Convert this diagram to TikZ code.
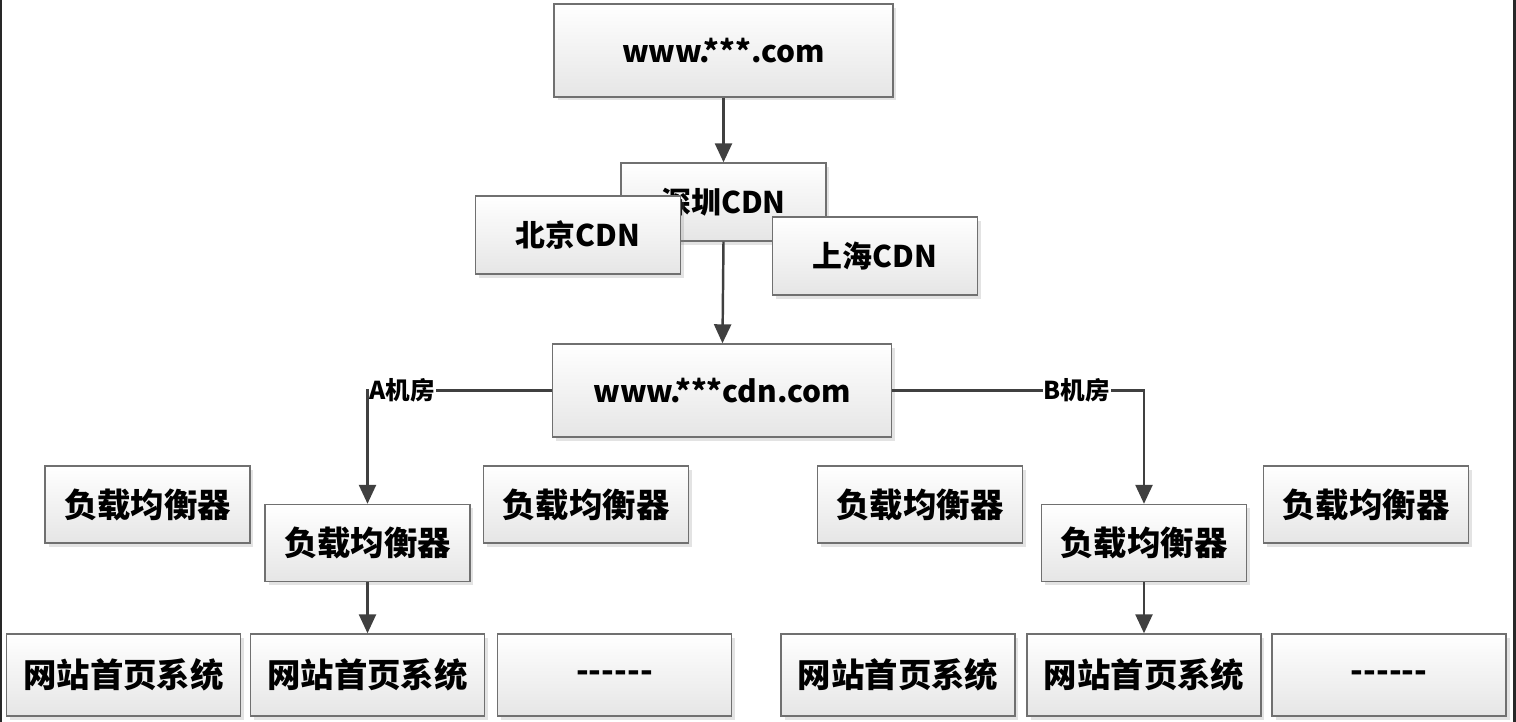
\documentclass[tikz,border=0pt]{standalone}
\usepackage{fontspec}
\setmainfont{Noto Sans CJK SC}
\usetikzlibrary{arrows.meta,positioning,shadows}
\definecolor{boxline}{RGB}{112,112,112}
\definecolor{arrline}{RGB}{64,64,64}
\definecolor{edgedark}{RGB}{40,40,40}
\newcommand{\dashrow}{\smash{\raisebox{-0.16cm}{{-}{-}{-}{-}{-}{-}}}}
\tikzset{
  box/.style={draw=boxline, line width=0.8pt, top color=white, bottom color=black!10,
              drop shadow={shadow xshift=2pt, shadow yshift=-2pt, opacity=0.22},
              inner sep=0pt, align=center},
  big/.style={box, minimum width=6.78cm, minimum height=1.86cm,
              font=\bfseries\fontsize{17pt}{20pt}\selectfont},
  cdn/.style={box, minimum width=4.1cm, minimum height=1.56cm,
              font=\bfseries\fontsize{17pt}{20pt}\selectfont},
  lb/.style={box, minimum width=4.1cm, minimum height=1.54cm,
             font=\bfseries\fontsize{19pt}{22pt}\selectfont},
  web/.style={box, minimum width=4.68cm, minimum height=1.64cm,
              font=\bfseries\fontsize{19pt}{22pt}\selectfont},
  room/.style={fill=white, inner sep=0.5pt, font=\bfseries\fontsize{14pt}{16pt}\selectfont},
  arr/.style={draw=arrline, line width=1.4pt, -{Triangle[length=0.38cm, width=0.34cm]}},
  link/.style={draw=arrline, line width=1.4pt}
}

\begin{document}
\begin{tikzpicture}[x=0.02cm, y=-0.02cm]
  \useasboundingbox (0,0) rectangle (1516,722);
  \fill[edgedark] (0,0) rectangle (2,722);
  \fill[edgedark] (1513,0) rectangle (1516,722);

  % domain and cdn
  \node[big] (www) at (723.5,50.5) {www.***.com};
  \node[cdn] (sz) at (723.5,202) {深圳CDN};
  \node[cdn] (bj) at (578,235) {北京CDN};
  \node[cdn] (sh) at (875,256) {上海CDN};
  \node[big] (wcdn) at (722,390.5) {www.***cdn.com};

  % load balancers
  \node[lb] (lbA1) at (147.5,504.5) {负载均衡器};
  \node[lb] (lbA) at (367.5,543) {负载均衡器};
  \node[lb] (lbA2) at (586,504.5) {负载均衡器};
  \node[lb] (lbB1) at (920,504.5) {负载均衡器};
  \node[lb] (lbB) at (1144,543) {负载均衡器};
  \node[lb] (lbB2) at (1366,504.5) {负载均衡器};

  % home page systems
  \node[web] (wA1) at (123.5,675) {网站首页系统};
  \node[web] (wA) at (367.5,675) {网站首页系统};
  \node[web] (wA2) at (614.5,675) {\dashrow};
  \node[web] (wB1) at (898,675) {网站首页系统};
  \node[web] (wB) at (1144,675) {网站首页系统};
  \node[web] (wB2) at (1389,675) {\dashrow};

  \draw[arr] (www) -- (sz);
  \draw[arr] (sz.south) -- (wcdn);
  \draw[arr] (wcdn.west) -| node[room, pos=0.5, anchor=west] {A机房} (lbA.north);
  \draw[arr] (wcdn.east) -| node[room, pos=0.367] {B机房} (lbB.north);
  \draw[arr] (lbA) -- (wA);
  \draw[arr] (lbB) -- (wB);
\end{tikzpicture}
\end{document}
